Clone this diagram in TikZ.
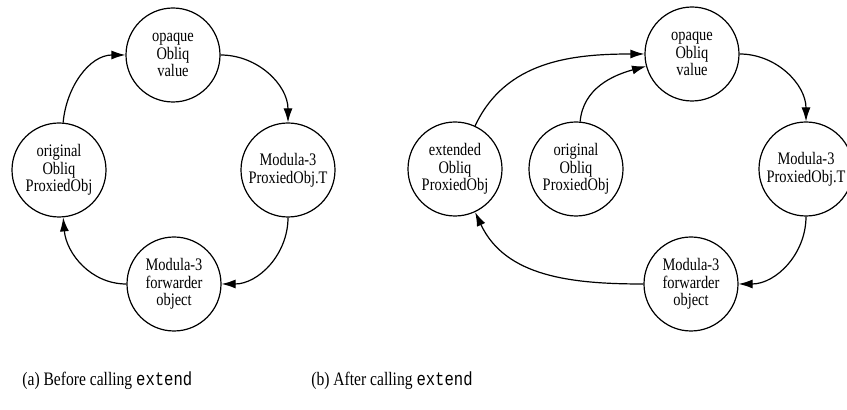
\documentclass[tikz,border=0pt]{standalone}
\usepackage{fontspec}
\setmainfont{Liberation Serif}[FakeStretch=0.82]
\setmonofont{Liberation Mono}[FakeStretch=0.82]
\usetikzlibrary{arrows.meta}

\begin{document}
\begin{tikzpicture}[x=0.5pt,y=-0.5pt]
	\tikzstyle{main}=[circle, minimum size = 47pt, inner sep=0pt, line width=0.6pt, draw=black, align=center, font=\fontsize{8.8}{8.8}\selectfont]
	\tikzstyle{connect}=[-{Latex[length=7pt,width=4.5pt]}, line width=0.6pt]
	\tikzstyle{caption}=[anchor=west, inner sep=0pt, font=\fontsize{9.5}{11}\selectfont]
	\useasboundingbox (0,0) rectangle (847,410);
	% (a) before
	\node[main] (opq) at (173,55) {opaque\\Obliq\\value};
	\node[main] (orig) at (59,170) {original\\Obliq\\ProxiedObj};
	\node[main] (prox) at (288,170) {Modula-3\\ProxiedObj.T};
	\node[main] (fwd) at (174,284) {Modula-3\\forwarder\\object};
	\path
	(orig) edge [connect, out=85, in=180] (opq)
	(opq) edge [connect, out=0, in=90] (prox)
	(prox) edge [connect, out=-90, in=0] (fwd)
	(fwd) edge [connect, out=180, in=-85] (orig);
	% (b) after
	\node[main] (opqb) at (692,54) {opaque\\Obliq\\value};
	\node[main] (ext) at (455,169) {extended\\Obliq\\ProxiedObj};
	\node[main] (origb) at (576,169) {original\\Obliq\\ProxiedObj};
	\node[main] (proxb) at (806,169) {Modula-3\\ProxiedObj.T};
	\node[main] (fwdb) at (691,284) {Modula-3\\forwarder\\object};
	\path
	(ext) edge [connect, out=65, in=180] (opqb)
	(origb) edge [connect, out=85, in=195] (opqb)
	(opqb) edge [connect, out=0, in=90] (proxb)
	(proxb) edge [connect, out=-90, in=0] (fwdb)
	(fwdb) edge [connect, out=180, in=-65] (ext);
	% captions
	\node[caption] (capa) at (22,381) {(a) Before calling \texttt{extend}};
	\node[caption] (capb) at (311,381) {(b) After calling \texttt{extend}};
\end{tikzpicture}
\end{document}
